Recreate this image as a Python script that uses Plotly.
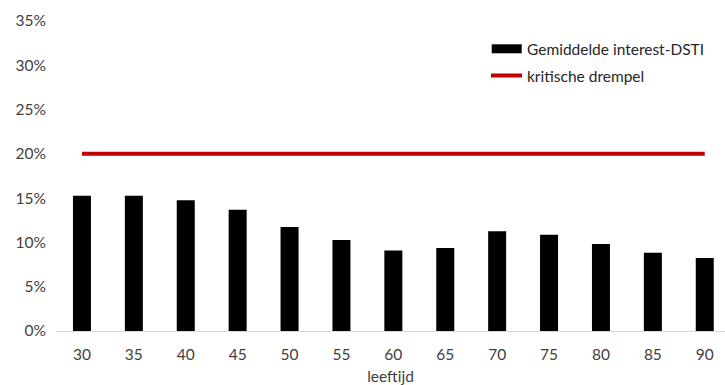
import plotly.graph_objects as go

ages = [30, 35, 40, 45, 50, 55, 60, 65, 70, 75, 80, 85, 90]
dsti = [0.1527, 0.1527, 0.1475, 0.1369, 0.1174, 0.1027, 0.0910, 0.0937, 0.1125, 0.1087, 0.0982, 0.0884, 0.0824]
threshold = [0.20] * len(ages)
ytick_vals = [0, 0.05, 0.10, 0.15, 0.20, 0.25, 0.30, 0.35]
ytick_text = ["0%", "5%", "10%", "15%", "20%", "25%", "30%", "35%"]
series_names = ["Gemiddelde interest-DSTI", "kritische drempel"]

font_family = "Lato, Open Sans, sans-serif"
FS = 15.5
TXT = "#404040"

fig = go.Figure()
fig.add_trace(go.Bar(
    x=ages, y=dsti, name=series_names[0], showlegend=False,
    marker=dict(color="black", line=dict(width=0)),
))
fig.add_trace(go.Scatter(
    x=ages, y=threshold, name=series_names[1], mode="lines", showlegend=False,
    line=dict(color="#C00000", width=4),
))

# custom legend (Excel-style wide swatches)
L, W, T, H = 56, 669, 21, 310
px = lambda v: (v - L) / W
py = lambda v: (T + H - v) / H
fig.add_shape(type="rect", xref="paper", yref="paper",
              x0=px(491.7), x1=px(521.7), y0=py(53.3), y1=py(44.3),
              fillcolor="black", line=dict(width=0))
fig.add_shape(type="line", xref="paper", yref="paper",
              x0=px(491), x1=px(522), y0=py(75.5), y1=py(75.5),
              line=dict(color="#C00000", width=4))
fig.add_annotation(xref="paper", yref="paper", x=px(525), y=py(48.5),
                   text=series_names[0], showarrow=False,
                   xanchor="left", yanchor="middle",
                   font=dict(size=FS, color="#262626"))
fig.add_annotation(xref="paper", yref="paper", x=px(525), y=py(75.5),
                   text=series_names[1], showarrow=False,
                   xanchor="left", yanchor="middle",
                   font=dict(size=FS, color="#262626"))

fig.update_layout(
    width=725, height=385,
    margin=dict(l=L, r=0, t=T, b=385 - T - H),
    paper_bgcolor="white", plot_bgcolor="white",
    font=dict(family=font_family, size=FS, color=TXT),
    bargap=0.653,
    showlegend=False,
    xaxis=dict(
        range=[27.5, 91.95],
        tickmode="array", tickvals=ages, ticktext=[str(a) for a in ages],
        showgrid=False, zeroline=False,
        showline=True, linecolor="#D9D9D9", linewidth=1,
        ticks="", ticklabelstandoff=9,
        title=dict(text="leeftijd", standoff=10, font=dict(size=FS, color=TXT)),
    ),
    yaxis=dict(
        range=[0, 0.35],
        tickmode="array", tickvals=ytick_vals, ticktext=ytick_text,
        showgrid=False, zeroline=False, showline=False, ticks="",
        ticklabelstandoff=9,
    ),
)

fig.write_html("out.html")
